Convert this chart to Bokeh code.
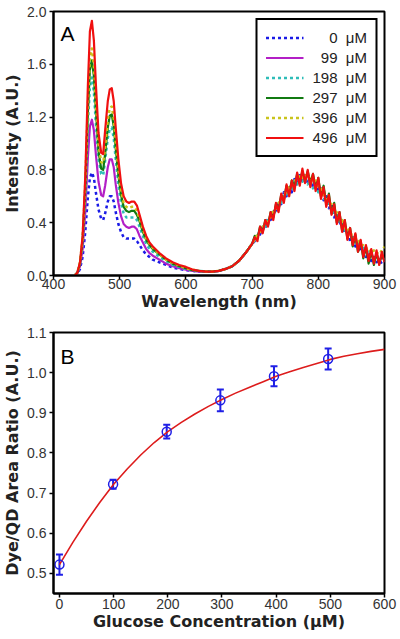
from bokeh.plotting import figure
from bokeh.layouts import column
from bokeh.models import (Range1d, FixedTicker, PrintfTickFormatter, Legend, LegendItem,
                          Label, Whisker, ColumnDataSource, TeeHead)
from bokeh.embed import file_html
from bokeh.resources import INLINE

# ---------------- Panel A data (spectra) ----------------
wl_vis = [432, 436, 440, 444, 448, 452, 455, 458, 461, 464, 468, 472, 475, 478, 482,
          485, 488, 491, 494, 498, 502, 506, 510, 514, 518, 522, 526, 530, 535, 540,
          545, 550, 560, 570, 580, 590, 600, 610, 620, 630, 640, 650, 660, 670, 680,
          690, 700]
wl_nir = [704, 708, 712, 716, 720, 724, 728, 732, 736, 740, 744, 748, 752, 756, 760,
          764, 768, 772, 776, 780, 784, 788, 792, 796, 800, 804, 808, 812, 816, 820,
          824, 828, 832, 836, 840, 844, 848, 852, 856, 860, 864, 868, 872, 876, 880,
          884, 888, 892, 896, 900]

i0_vis = [0.00, 0.01, 0.05, 0.14, 0.33, 0.60, 0.74, 0.78, 0.74, 0.63, 0.50, 0.43, 0.42, 0.47, 0.56,
          0.60, 0.60, 0.56, 0.48, 0.39, 0.33, 0.29, 0.28, 0.28, 0.28, 0.28, 0.26, 0.23, 0.19, 0.16,
          0.14, 0.12, 0.10, 0.08, 0.06, 0.05, 0.04, 0.035, 0.03, 0.03, 0.03, 0.035, 0.05, 0.07, 0.11,
          0.17, 0.24]
i0_nir = [0.26, 0.31, 0.31, 0.37, 0.36, 0.43, 0.42, 0.50, 0.47, 0.56, 0.54, 0.63, 0.60, 0.68, 0.63,
          0.73, 0.68, 0.76, 0.71, 0.77, 0.70, 0.75, 0.67, 0.72, 0.64, 0.66, 0.57, 0.60, 0.51, 0.54,
          0.44, 0.47, 0.38, 0.41, 0.32, 0.35, 0.26, 0.30, 0.22, 0.25, 0.18, 0.21, 0.14, 0.17, 0.11,
          0.14, 0.10, 0.12, 0.09, 0.11]

i99_vis = [0.00, 0.02, 0.07, 0.20, 0.48, 0.90, 1.13, 1.18, 1.10, 0.92, 0.71, 0.61, 0.60, 0.68, 0.82,
           0.88, 0.88, 0.82, 0.69, 0.55, 0.45, 0.39, 0.37, 0.36, 0.37, 0.37, 0.35, 0.30, 0.25, 0.20,
           0.17, 0.15, 0.12, 0.09, 0.07, 0.055, 0.045, 0.035, 0.03, 0.03, 0.03, 0.035, 0.05, 0.07, 0.11,
           0.17, 0.24]
i99_nir = [0.28, 0.29, 0.35, 0.34, 0.40, 0.40, 0.46, 0.45, 0.52, 0.51, 0.59, 0.58, 0.65, 0.63, 0.69,
           0.68, 0.74, 0.72, 0.77, 0.73, 0.76, 0.71, 0.73, 0.68, 0.70, 0.62, 0.63, 0.56, 0.57, 0.50,
           0.50, 0.43, 0.44, 0.37, 0.38, 0.31, 0.32, 0.26, 0.28, 0.22, 0.23, 0.18, 0.19, 0.15, 0.16,
           0.12, 0.15, 0.11, 0.14, 0.12]

i198_vis = [0.00, 0.02, 0.09, 0.25, 0.61, 1.15, 1.43, 1.50, 1.39, 1.15, 0.88, 0.77, 0.76, 0.87, 1.04,
            1.11, 1.12, 1.04, 0.88, 0.69, 0.55, 0.47, 0.44, 0.44, 0.44, 0.44, 0.42, 0.37, 0.30, 0.24,
            0.20, 0.18, 0.14, 0.11, 0.08, 0.065, 0.05, 0.04, 0.035, 0.03, 0.03, 0.035, 0.05, 0.07, 0.11,
            0.17, 0.24]
i198_nir = [0.27, 0.30, 0.32, 0.36, 0.37, 0.42, 0.43, 0.48, 0.49, 0.54, 0.55, 0.61, 0.61, 0.66, 0.64,
            0.71, 0.69, 0.74, 0.71, 0.74, 0.69, 0.72, 0.66, 0.69, 0.63, 0.63, 0.58, 0.58, 0.52, 0.52,
            0.46, 0.46, 0.40, 0.40, 0.34, 0.34, 0.29, 0.29, 0.25, 0.25, 0.21, 0.21, 0.18, 0.18, 0.15,
            0.15, 0.14, 0.15, 0.14, 0.16]

i297_vis = [0.00, 0.02, 0.09, 0.27, 0.66, 1.24, 1.56, 1.63, 1.51, 1.25, 0.94, 0.81, 0.80, 0.92, 1.12,
            1.21, 1.22, 1.13, 0.96, 0.76, 0.61, 0.52, 0.49, 0.48, 0.49, 0.49, 0.46, 0.41, 0.33, 0.27,
            0.23, 0.20, 0.16, 0.12, 0.09, 0.07, 0.055, 0.04, 0.035, 0.03, 0.03, 0.035, 0.05, 0.07, 0.11,
            0.17, 0.24]
i297_nir = [0.30, 0.28, 0.37, 0.33, 0.42, 0.38, 0.48, 0.44, 0.54, 0.50, 0.61, 0.57, 0.68, 0.62, 0.72,
            0.67, 0.77, 0.71, 0.79, 0.72, 0.79, 0.70, 0.77, 0.66, 0.74, 0.60, 0.68, 0.54, 0.62, 0.47,
            0.55, 0.40, 0.48, 0.34, 0.42, 0.28, 0.36, 0.22, 0.31, 0.18, 0.26, 0.13, 0.22, 0.09, 0.19,
            0.08, 0.17, 0.09, 0.16, 0.11]

i396_vis = [0.00, 0.02, 0.10, 0.28, 0.70, 1.31, 1.65, 1.72, 1.59, 1.31, 0.99, 0.86, 0.85, 0.97, 1.18,
            1.27, 1.28, 1.19, 1.01, 0.80, 0.64, 0.55, 0.52, 0.51, 0.52, 0.52, 0.49, 0.43, 0.35, 0.28,
            0.24, 0.21, 0.16, 0.12, 0.095, 0.075, 0.055, 0.045, 0.035, 0.03, 0.03, 0.035, 0.05, 0.07, 0.11,
            0.17, 0.24]
i396_nir = [0.27, 0.31, 0.33, 0.37, 0.38, 0.43, 0.44, 0.49, 0.50, 0.55, 0.57, 0.62, 0.63, 0.67, 0.67,
            0.72, 0.72, 0.76, 0.74, 0.77, 0.73, 0.75, 0.70, 0.72, 0.67, 0.66, 0.61, 0.60, 0.55, 0.54,
            0.48, 0.48, 0.42, 0.42, 0.36, 0.36, 0.31, 0.31, 0.27, 0.27, 0.23, 0.23, 0.20, 0.21, 0.17,
            0.19, 0.16, 0.19, 0.18, 0.22]

i496_vis = [0.00, 0.02, 0.10, 0.30, 0.75, 1.45, 1.85, 1.93, 1.78, 1.45, 1.08, 0.93, 0.92, 1.10, 1.32,
            1.41, 1.42, 1.32, 1.12, 0.88, 0.70, 0.60, 0.56, 0.55, 0.56, 0.56, 0.53, 0.46, 0.37, 0.30,
            0.25, 0.22, 0.17, 0.13, 0.10, 0.08, 0.065, 0.045, 0.035, 0.03, 0.03, 0.035, 0.05, 0.07, 0.11,
            0.17, 0.24]
i496_nir = [0.29, 0.26, 0.37, 0.32, 0.42, 0.37, 0.48, 0.42, 0.55, 0.48, 0.62, 0.55, 0.69, 0.60, 0.72,
            0.64, 0.78, 0.68, 0.81, 0.70, 0.80, 0.67, 0.77, 0.64, 0.74, 0.58, 0.67, 0.52, 0.61, 0.46,
            0.54, 0.39, 0.48, 0.33, 0.42, 0.27, 0.36, 0.23, 0.32, 0.18, 0.27, 0.14, 0.23, 0.11, 0.20,
            0.09, 0.19, 0.08, 0.18, 0.10]

series_labels = ["\u00a0\u00a0\u00a0\u00a00\u00a0\u00a0\u03bcM",
                 "\u00a0\u00a099\u00a0\u00a0\u03bcM",
                 "198\u00a0\u00a0\u03bcM",
                 "297\u00a0\u00a0\u03bcM",
                 "396\u00a0\u00a0\u03bcM",
                 "496\u00a0\u00a0\u03bcM"]
series_colors = ["#1a1ae6", "#b31fc6", "#2ebdb8", "#117a11", "#c9c41c", "#f01010"]
series_dashes = ["3 3", "solid", "3 3", "solid", "3 3", "solid"]
series_vis = [i0_vis, i99_vis, i198_vis, i297_vis, i396_vis, i496_vis]
series_nir = [i0_nir, i99_nir, i198_nir, i297_nir, i396_nir, i496_nir]

wl_ticks = [400, 500, 600, 700, 800, 900]
int_ticks = [0.0, 0.4, 0.8, 1.2, 1.6, 2.0]

# ---------------- Panel B data ----------------
glucose = [0, 99, 198, 297, 396, 496]
ratio = [0.522, 0.722, 0.853, 0.931, 0.991, 1.034]
ratio_err = [0.025, 0.011, 0.017, 0.027, 0.025, 0.026]

fit_x = [0, 25, 50, 75, 100, 125, 150, 175, 200, 225, 250, 275, 300, 325, 350, 375,
         400, 425, 450, 475, 500, 525, 550, 575, 600]
fit_y = [0.522, 0.578, 0.630, 0.678, 0.722, 0.760, 0.795, 0.826, 0.853, 0.876, 0.897,
         0.916, 0.933, 0.949, 0.963, 0.977, 0.991, 1.002, 1.013, 1.023, 1.033, 1.041,
         1.047, 1.053, 1.058]

glu_ticks = [0, 100, 200, 300, 400, 500, 600]
ratio_ticks = [0.5, 0.6, 0.7, 0.8, 0.9, 1.0, 1.1]

TICK_FONT = "Liberation Sans"
LABEL_FONT = "DejaVu Sans"


def style(p, xt, yt, xfmt, yfmt, xlab, ylab):
    p.xgrid.grid_line_color = None
    p.ygrid.grid_line_color = None
    p.outline_line_color = "black"
    p.outline_line_width = 2
    p.outline_line_alpha = 1
    p.xaxis.ticker = FixedTicker(ticks=xt)
    p.yaxis.ticker = FixedTicker(ticks=yt)
    p.xaxis.formatter = PrintfTickFormatter(format=xfmt)
    p.yaxis.formatter = PrintfTickFormatter(format=yfmt)
    p.xaxis.axis_label = xlab
    p.yaxis.axis_label = ylab
    for ax in (p.xaxis, p.yaxis):
        ax.axis_line_color = "black"
        ax.axis_line_width = 2
        ax.major_tick_line_color = "black"
        ax.major_tick_line_width = 1.5
        ax.major_tick_in = 0
        ax.major_tick_out = 4
        ax.minor_tick_line_color = None
        ax.major_label_text_font = TICK_FONT
        ax.major_label_text_font_size = "14px"
        ax.major_label_text_color = "#333333"
        ax.axis_label_text_font = LABEL_FONT
        ax.axis_label_text_font_style = "bold"
        ax.axis_label_text_font_size = "16px"
        ax.axis_label_text_color = "#222222"
    p.yaxis.major_label_standoff = 3
    p.yaxis.axis_label_standoff = 2


# ---------------- Figure A ----------------
p1 = figure(width=400, height=313, output_backend="svg", toolbar_location=None,
            x_range=Range1d(400, 900), y_range=Range1d(0, 2.0),
            min_border_left=50, min_border_right=16, min_border_top=11, min_border_bottom=38)
style(p1, wl_ticks, int_ticks, "%d", "%.1f", "Wavelength (nm)", "Intensity (A.U.)")
p1.xaxis.major_label_standoff = -1
p1.xaxis.axis_label_standoff = 0

items = []
for lab, col, dash, v, n in zip(series_labels, series_colors, series_dashes, series_vis, series_nir):
    r = p1.line(wl_vis + wl_nir, v + n, line_color=col, line_dash=dash,
                line_width=2.5 if dash != "solid" else 2.2, line_join="round")
    items.append(LegendItem(label=lab, renderers=[r]))

leg = Legend(items=items, location="top_right", margin=7,
             border_line_color="black", border_line_width=2, border_line_alpha=1,
             background_fill_color="white", background_fill_alpha=1,
             label_text_font=TICK_FONT, label_text_font_size="15px", label_text_color="#222222",
             glyph_width=38, glyph_height=19, label_height=19, spacing=1, padding=8,
             label_standoff=9)
p1.add_layout(leg)

p1.add_layout(Label(x=410.5, y=1.833, text="A", text_font=TICK_FONT,
                    text_font_size="21px", text_color="black", text_baseline="alphabetic"))

# ---------------- Figure B ----------------
p2 = figure(width=400, height=320, output_backend="svg", toolbar_location=None,
            x_range=Range1d(-11, 600), y_range=Range1d(0.45, 1.1),
            min_border_left=50, min_border_right=16, min_border_top=19, min_border_bottom=40)
style(p2, glu_ticks, ratio_ticks, "%d", "%.1f", "Glucose Concentration (\u03bcM)",
      "Dye/QD Area Ratio (A.U.)")
p2.xaxis.major_label_standoff = 1
p2.xaxis.axis_label_standoff = 0

p2.line(fit_x, fit_y, line_color="#dd1c1c", line_width=1.6)

err_src = ColumnDataSource(data=dict(
    x=glucose, y=ratio,
    upper=[a + b for a, b in zip(ratio, ratio_err)],
    lower=[a - b for a, b in zip(ratio, ratio_err)]))
blue = "#1f1fe6"
p2.add_layout(Whisker(base="x", upper="upper", lower="lower", source=err_src,
                      line_color=blue, line_width=2,
                      upper_head=TeeHead(size=7, line_color=blue, line_width=2),
                      lower_head=TeeHead(size=7, line_color=blue, line_width=2)))
p2.scatter("x", "y", source=err_src, marker="circle", size=9, fill_color=None,
           line_color=blue, line_width=1.5)

p2.add_layout(Label(x=1.8, y=1.040, text="B", text_font=TICK_FONT,
                    text_font_size="21px", text_color="black", text_baseline="alphabetic"))

layout = column(p1, p2, spacing=0)
open("out.html", "w").write(file_html(layout, INLINE))
